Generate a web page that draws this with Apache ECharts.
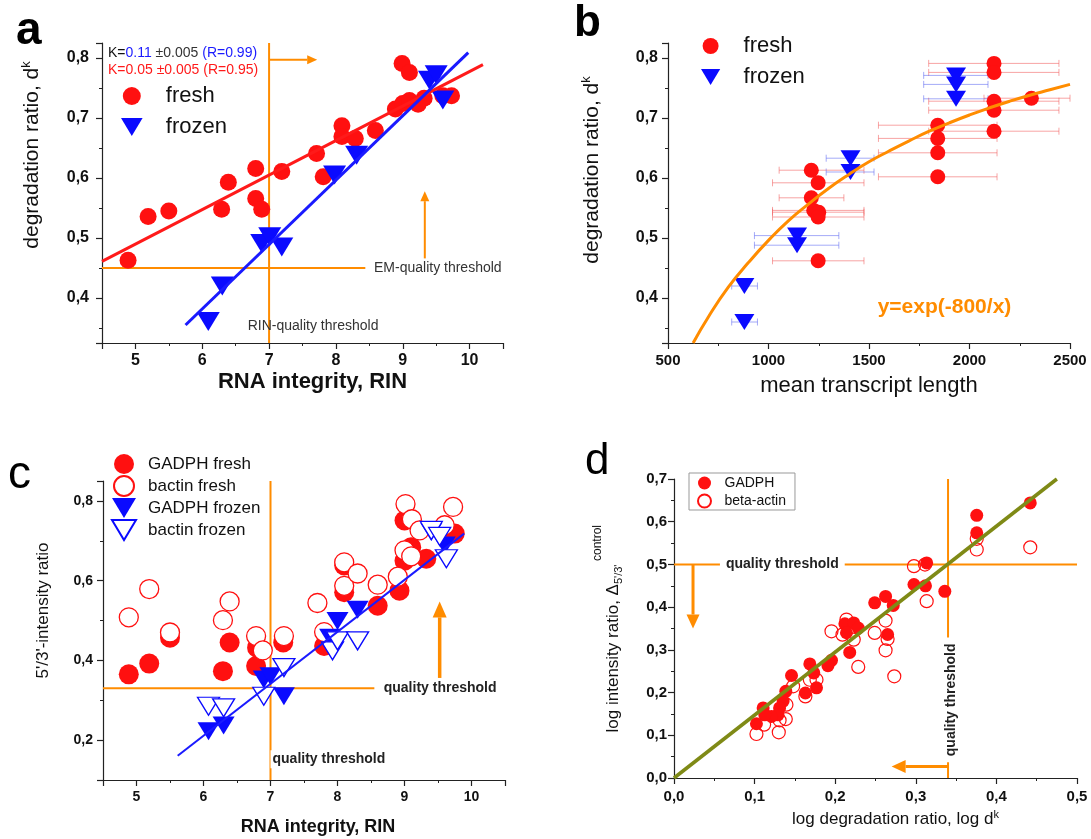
<!DOCTYPE html>
<html>
<head>
<meta charset="utf-8">
<script src="https://cdn.jsdelivr.net/npm/echarts@6/dist/echarts.min.js"></script>
<style>
  html, body { margin: 0; padding: 0; background: #fff; }
  #chart { width: 1091px; height: 839px; }
</style>
</head>
<body>
<div id="chart"></div>
<script>
// ---------- Panel a: degradation ratio vs RIN ----------
const aFreshRIN = [4.89, 5.19, 5.50, 6.29, 6.39, 6.80, 6.80, 6.89, 7.19, 7.71, 7.81, 8.09, 8.09, 8.29, 8.59, 8.89, 8.99, 9.10, 9.00, 9.10, 9.23, 9.32, 9.60, 9.73];
const aFreshDk  = [0.463, 0.536, 0.545, 0.548, 0.593, 0.616, 0.566, 0.548, 0.611, 0.641, 0.602, 0.687, 0.669, 0.666, 0.679, 0.715, 0.791, 0.776, 0.724, 0.729, 0.723, 0.733, 0.737, 0.737];
const aFrozenRIN = [6.09, 6.30, 6.89, 7.01, 7.19, 7.98, 8.31, 9.40, 9.50, 9.60];
const aFrozenDk  = [0.361, 0.420, 0.491, 0.502, 0.485, 0.605, 0.638, 0.763, 0.772, 0.730];
const aFitFreshX = [4.5, 10.2],  aFitFreshY = [0.461, 0.789];
const aFitFrozenX = [5.75, 9.98], aFitFrozenY = [0.355, 0.809];

// ---------- Panel b: degradation ratio vs mean transcript length ----------
const bFreshLen = [2122, 2122, 2122, 2122, 2122, 2308, 1842, 1842, 1842, 1842, 1213, 1247, 1213, 1225, 1250, 1247, 1247];
const bFreshDk  = [0.791, 0.776, 0.728, 0.713, 0.678, 0.733, 0.688, 0.666, 0.642, 0.602, 0.613, 0.592, 0.567, 0.546, 0.543, 0.535, 0.462];
const bFreshLo  = [1797, 1797, 1797, 1797, 1797, 2072, 1547, 1547, 1547, 1547, 1053, 1020, 1053, 1020, 1020, 1020, 1020];
const bFreshHi  = [2445, 2445, 2445, 2445, 2445, 2500, 2137, 2137, 2137, 2137, 1475, 1475, 1375, 1475, 1475, 1475, 1475];
const bFrozenLen = [1933, 1933, 1933, 1408, 1408, 1142, 1142, 880, 880];
const bFrozenDk  = [0.771, 0.756, 0.732, 0.633, 0.610, 0.504, 0.488, 0.420, 0.360];
const bFrozenLo  = [1772, 1772, 1772, 1287, 1287, 930, 930, 817, 817];
const bFrozenHi  = [2092, 2092, 2092, 1525, 1525, 1350, 1350, 945, 945];
const bCurveLen = [625, 700, 800, 900, 1000, 1100, 1200, 1300, 1400, 1500, 1600, 1700, 1800, 1900, 2000, 2100, 2200, 2300, 2400, 2500];
const bCurveDk  = [0.325, 0.368, 0.418, 0.459, 0.496, 0.529, 0.557, 0.583, 0.606, 0.627, 0.645, 0.662, 0.678, 0.692, 0.705, 0.717, 0.728, 0.738, 0.747, 0.756];

// ---------- Panel c: 5'/3' intensity ratio vs RIN ----------
const cGadFreshRIN   = [4.885, 5.19, 5.50, 6.29, 6.39, 6.785, 6.80, 7.19, 7.80, 8.10, 8.10, 8.60, 8.925, 9.00, 9.10, 9.00, 9.325, 9.75];
const cGadFreshRatio = [0.365, 0.392, 0.457, 0.373, 0.445, 0.386, 0.432, 0.445, 0.436, 0.571, 0.638, 0.537, 0.575, 0.751, 0.684, 0.650, 0.655, 0.718];
const cBacFreshRIN   = [4.885, 5.19, 5.50, 6.29, 6.39, 6.785, 6.885, 7.20, 7.70, 7.80, 8.10, 8.10, 8.30, 8.60, 8.90, 9.00, 9.015, 9.11, 9.10, 9.225, 9.60, 9.725];
const cBacFreshRatio = [0.508, 0.579, 0.470, 0.501, 0.548, 0.461, 0.425, 0.461, 0.544, 0.471, 0.646, 0.587, 0.618, 0.590, 0.610, 0.676, 0.792, 0.754, 0.661, 0.726, 0.739, 0.785];
const cGadFrozenRIN   = [6.075, 6.30, 6.90, 7.00, 7.20, 7.89, 8.00, 8.30, 9.40, 9.60];
const cGadFrozenRatio = [0.222, 0.237, 0.352, 0.360, 0.310, 0.457, 0.499, 0.527, 0.722, 0.688];
const cBacFrozenRIN   = [6.075, 6.30, 6.90, 7.20, 7.925, 8.00, 8.30, 9.40, 9.525, 9.625];
const cBacFrozenRatio = [0.285, 0.281, 0.310, 0.382, 0.424, 0.449, 0.449, 0.726, 0.711, 0.655];
const cFitX = [5.615, 9.89], cFitY = [0.161, 0.718];

// ---------- Panel d: log intensity ratio vs log degradation ratio ----------
const dGadX = [0.442, 0.3756, 0.3756, 0.3135, 0.2977, 0.312, 0.336, 0.249, 0.2625, 0.272, 0.265, 0.212, 0.223, 0.2286, 0.214, 0.218, 0.1954, 0.191, 0.1685, 0.1735, 0.1768, 0.163, 0.1458, 0.1387, 0.1354, 0.131, 0.129, 0.121, 0.1106, 0.1126, 0.1023];
const dGadY = [0.644, 0.615, 0.574, 0.5035, 0.453, 0.450, 0.437, 0.410, 0.425, 0.404, 0.336, 0.361, 0.363, 0.351, 0.340, 0.294, 0.2756, 0.263, 0.267, 0.246, 0.211, 0.199, 0.240, 0.203, 0.180, 0.164, 0.148, 0.144, 0.164, 0.148, 0.127];
const dActX = [0.442, 0.3756, 0.3756, 0.2977, 0.3114, 0.3135, 0.2625, 0.2625, 0.265, 0.2733, 0.249, 0.2286, 0.223, 0.214, 0.209, 0.1954, 0.1685, 0.1768, 0.163, 0.1478, 0.1395, 0.1387, 0.131, 0.130, 0.1118, 0.1023];
const dActY = [0.540, 0.560, 0.535, 0.496, 0.4996, 0.414, 0.3685, 0.299, 0.3255, 0.238, 0.3396, 0.260, 0.324, 0.371, 0.3357, 0.3435, 0.230, 0.230, 0.191, 0.2147, 0.1717, 0.138, 0.135, 0.107, 0.125, 0.103];
const dFitX = [0, 0.475], dFitY = [0, 0.7];

// ---------- thresholds (data coordinates) ----------
const aThreshold = { rin: 7, dk: 0.45 };
const cThreshold = { rin: 7, ratio: 0.33 };
const dThreshold = { logDk: 0.34, logRatio: 0.5 };

// ---------- styling ----------
const FONT = '"Liberation Sans", Arial, Helvetica, sans-serif';
const RED = '#ff1010', BLUE = '#0a0aff', ORANGE = '#ff8c00', OLIVE = '#7f8a16';
const TRI_DOWN = 'path://M0,0L24,0L12,20Z';
const pairs = (xs, ys) => xs.map((x, i) => [x, ys[i]]);
const comma = v => (Math.round(v * 10) / 10).toFixed(1).replace('.', ',');

function axis(o) {
  return {
    type: 'value', gridIndex: o.grid, min: o.min, max: o.max,
    interval: o.interval, splitNumber: o.split,
    axisLine: { show: true, onZero: false, lineStyle: { color: '#222', width: 1.2 } },
    axisTick: { show: true, inside: false, length: 6, lineStyle: { color: '#222', width: 1.2 } },
    minorTick: { show: true, splitNumber: 2, length: 3, lineStyle: { color: '#222', width: 1 } },
    splitLine: { show: false },
    axisLabel: {
      fontFamily: FONT, fontWeight: 'bold', fontSize: o.labelSize, color: '#111',
      margin: o.margin, formatter: o.fmt,
      showMinLabel: o.showMin, showMaxLabel: o.showMax
    },
    name: o.name, nameLocation: 'middle', nameGap: o.nameGap,
    nameTextStyle: Object.assign({ fontFamily: FONT, color: '#111' }, o.nameStyle)
  };
}

function segment(idx, xs, ys, color, width, z) {
  return {
    type: 'line', xAxisIndex: idx, yAxisIndex: idx, data: pairs(xs, ys),
    symbol: 'none', silent: true, z: z || 2,
    lineStyle: { color: color, width: width }
  };
}

// arrows: [x1, y1, x2, y2] in data units, head drawn at the second point
function arrows(idx, list, color, width, head) {
  return {
    type: 'custom', xAxisIndex: idx, yAxisIndex: idx, silent: true, z: 3,
    data: list,
    renderItem(params, api) {
      const p1 = api.coord([api.value(0), api.value(1)]);
      const p2 = api.coord([api.value(2), api.value(3)]);
      const dx = p2[0] - p1[0], dy = p2[1] - p1[1];
      const len = Math.hypot(dx, dy), ux = dx / len, uy = dy / len;
      const bx = p2[0] - ux * head[0], by = p2[1] - uy * head[0];
      return {
        type: 'group', children: [
          { type: 'line', shape: { x1: p1[0], y1: p1[1], x2: bx, y2: by }, style: { stroke: color, lineWidth: width } },
          { type: 'polygon', shape: { points: [[p2[0], p2[1]], [bx - uy * head[1], by + ux * head[1]], [bx + uy * head[1], by - ux * head[1]]] }, style: { fill: color } }
        ]
      };
    }
  };
}

// free text placed at data coordinates
function notes(idx, list) {
  return {
    type: 'custom', xAxisIndex: idx, yAxisIndex: idx, silent: true, z: 6,
    data: list.map((t, i) => [t.x, t.y, i]),
    renderItem(params, api) {
      const t = list[api.value(2)];
      const p = api.coord([api.value(0), api.value(1)]);
      return {
        type: 'text', x: p[0], y: p[1], rotation: t.rot || 0,
        style: {
          text: t.text, fill: t.color || '#222', font: t.font,
          align: t.align || 'left', verticalAlign: 'middle',
          backgroundColor: t.bg, padding: t.pad
        }
      };
    }
  };
}

function errorBars(idx, xs, ys, lo, hi, color) {
  return {
    type: 'custom', xAxisIndex: idx, yAxisIndex: idx, silent: true, z: 1,
    data: xs.map((x, i) => [x, ys[i], lo[i], hi[i]]),
    encode: { x: [2, 3], y: 1 },
    renderItem(params, api) {
      const a = api.coord([api.value(2), api.value(1)]);
      const b = api.coord([api.value(3), api.value(1)]);
      const s = { stroke: color, lineWidth: 1 };
      return {
        type: 'group', children: [
          { type: 'line', shape: { x1: a[0], y1: a[1], x2: b[0], y2: b[1] }, style: s },
          { type: 'line', shape: { x1: a[0], y1: a[1] - 3.5, x2: a[0], y2: a[1] + 3.5 }, style: s },
          { type: 'line', shape: { x1: b[0], y1: b[1] - 3.5, x2: b[0], y2: b[1] + 3.5 }, style: s }
        ]
      };
    }
  };
}

function scatter(idx, name, xs, ys, opt) {
  const s = Object.assign({
    type: 'scatter', name: name, xAxisIndex: idx, yAxisIndex: idx,
    data: pairs(xs, ys), z: 4
  }, opt);
  s.itemStyle = Object.assign({ opacity: 1 }, s.itemStyle);
  return s;
}

const chart = echarts.init(document.getElementById('chart'), null, { renderer: 'canvas' });

const supRich = { sup: { fontSize: 13, fontFamily: FONT, color: '#111', padding: [0, 0, 12, 0] } };

const option = {
  backgroundColor: '#fff',
  animation: false,
  grid: [
    { left: 102, top: 43, width: 401, height: 300 },
    { left: 668, top: 43, width: 402, height: 300 },
    { left: 103, top: 481, width: 402, height: 299 },
    { left: 674, top: 479, width: 403, height: 299 }
  ],
  xAxis: [
    axis({ grid: 0, min: 4.5, max: 10.5, split: 6, labelSize: 16, margin: 10, showMin: false, showMax: false,
      fmt: v => Math.abs(v - Math.round(v)) < 1e-6 ? String(Math.round(v)) : '',
      name: 'RNA integrity, RIN', nameGap: 28,
      nameStyle: { fontSize: 22, fontWeight: 'bold', padding: [0, 0, 0, 20] } }),
    axis({ grid: 1, min: 500, max: 2500, interval: 500, labelSize: 15, margin: 10,
      fmt: v => String(v), name: 'mean transcript length', nameGap: 32,
      nameStyle: { fontSize: 22 } }),
    axis({ grid: 2, min: 4.5, max: 10.5, split: 6, labelSize: 14, margin: 10, showMin: false, showMax: false,
      fmt: v => Math.abs(v - Math.round(v)) < 1e-6 ? String(Math.round(v)) : '',
      name: 'RNA integrity, RIN', nameGap: 38,
      nameStyle: { fontSize: 18, fontWeight: 'bold', padding: [0, 0, 0, 28] } }),
    axis({ grid: 3, min: 0, max: 0.5, interval: 0.1, labelSize: 15, margin: 11,
      fmt: comma, name: 'log degradation ratio, log d{sup|k}', nameGap: 31,
      nameStyle: { fontSize: 17, padding: [0, 0, 0, 40], rich: { sup: { fontSize: 11, fontFamily: FONT, color: '#111', padding: [0, 0, 10, 0] } } } })
  ],
  yAxis: [
    axis({ grid: 0, min: 0.325, max: 0.825, split: 5, labelSize: 16, margin: 13, showMin: false, showMax: false,
      fmt: comma, name: 'degradation ratio, d{sup|k}', nameGap: 57,
      nameStyle: { fontSize: 21, padding: [0, 0, 0, 76], rich: supRich } }),
    axis({ grid: 1, min: 0.325, max: 0.825, split: 5, labelSize: 16, margin: 10, showMin: false, showMax: false,
      fmt: comma, name: 'degradation ratio, d{sup|k}', nameGap: 63,
      nameStyle: { fontSize: 21, padding: [0, 0, 0, 46], rich: supRich } }),
    axis({ grid: 2, min: 0.1, max: 0.85, split: 4, labelSize: 14, margin: 10, showMin: false, showMax: false,
      fmt: v => (Math.round(v * 10) % 2 === 0 ? comma(v) : ''),
      name: "5'/3'-intensity ratio", nameGap: 51,
      nameStyle: { fontSize: 17, padding: [0, 0, 0, 40] } }),
    axis({ grid: 3, min: 0, max: 0.7, interval: 0.1, labelSize: 15, margin: 7,
      fmt: comma, name: 'log intensity ratio, Δ{sub|5\'/3\'}', nameGap: 50,
      nameStyle: { fontSize: 17, padding: [0, 40, 0, 0], rich: { sub: { fontSize: 11, fontFamily: FONT, color: '#111', padding: [10, 0, 0, 0] } } } })
  ],
  legend: [
    { left: 121, top: 85, orient: 'vertical', padding: 0, itemGap: 9, itemWidth: 24, itemHeight: 18, selectedMode: false,
      textStyle: { fontFamily: FONT, fontSize: 22, color: '#111', lineHeight: 22, padding: [0, 0, 0, 17] },
      data: [{ name: 'fresh', icon: 'circle' }, { name: 'frozen', icon: TRI_DOWN }] },
    { left: 701, top: 35, orient: 'vertical', padding: 0, itemGap: 9, itemWidth: 24, itemHeight: 16, selectedMode: false,
      textStyle: { fontFamily: FONT, fontSize: 22, color: '#111', lineHeight: 22, padding: [0, 0, 0, 16] },
      data: [{ name: 'fresh', icon: 'circle' }, { name: 'frozen', icon: TRI_DOWN }] },
    { left: 111, top: 454, orient: 'vertical', padding: 0, itemGap: 1, itemWidth: 24, itemHeight: 20, selectedMode: false,
      textStyle: { fontFamily: FONT, fontSize: 17, color: '#111', lineHeight: 20, padding: [0, 0, 0, 7] },
      data: [{ name: 'GADPH fresh', icon: 'circle' }, { name: 'bactin fresh', icon: 'circle' },
             { name: 'GADPH frozen', icon: TRI_DOWN }, { name: 'bactin frozen', icon: TRI_DOWN }] },
    { left: 689, top: 473, orient: 'vertical', padding: [2, 9, 1, 8], itemGap: 2, itemWidth: 20, itemHeight: 13, selectedMode: false,
      borderColor: '#999', borderWidth: 1,
      textStyle: { fontFamily: FONT, fontSize: 14, color: '#111', lineHeight: 16, padding: [0, 0, 0, 5] },
      data: [{ name: 'GADPH', icon: 'circle' }, { name: 'beta-actin', icon: 'circle' }] }
  ],
  graphic: [
    { type: 'text', left: 16, top: 8, style: { text: 'a', font: 'bold 46px ' + FONT, fill: '#000' } },
    { type: 'text', left: 574, top: 2, style: { text: 'b', font: 'bold 44px ' + FONT, fill: '#000' } },
    { type: 'text', left: 8, top: 452, style: { text: 'c', font: '46px ' + FONT, fill: '#000' } },
    { type: 'text', left: 585, top: 440, style: { text: 'd', font: '44px ' + FONT, fill: '#000' } },
    { type: 'text', left: 108, top: 46, z: 10, style: {
        text: '{k|K=}{b|0.11 }{g|±0.005 }{b|(R=0.99)}\n{r|K=0.05 ±0.005 (R=0.95)}',
        rich: {
          k: { fill: '#111', font: '14px ' + FONT, lineHeight: 17 },
          b: { fill: '#1a1aff', font: '14px ' + FONT, lineHeight: 17 },
          g: { fill: '#333', font: '14px ' + FONT, lineHeight: 17 },
          r: { fill: '#ff1a1a', font: '14px ' + FONT, lineHeight: 17 }
        } } },
    { type: 'text', x: 598, y: 543, rotation: Math.PI / 2, style: { text: 'control', font: '12px ' + FONT, fill: '#111', align: 'center', verticalAlign: 'middle' } }
  ],
  series: [
    // ---- panel a ----
    segment(0, [aThreshold.rin, aThreshold.rin], [0.325, 0.825], ORANGE, 2),
    segment(0, [4.5, 8.44], [aThreshold.dk, aThreshold.dk], ORANGE, 2),
    arrows(0, [[7, 0.797, 7.72, 0.797], [9.33, 0.466, 9.33, 0.578]], ORANGE, 2, [10, 4.5]),
    notes(0, [
      { x: 8.57, y: 0.45, text: 'EM-quality threshold', font: '14px ' + FONT, color: '#333' },
      { x: 6.68, y: 0.353, text: 'RIN-quality threshold', font: '14px ' + FONT, color: '#333' }
    ]),
    scatter(0, 'fresh', aFreshRIN, aFreshDk, { symbol: 'circle', symbolSize: 17, itemStyle: { color: RED } }),
    scatter(0, 'frozen', aFrozenRIN, aFrozenDk, { symbol: 'triangle', symbolRotate: 180, symbolSize: [23, 19], itemStyle: { color: BLUE } }),
    segment(0, aFitFreshX, aFitFreshY, '#ff1a1a', 3, 5),
    segment(0, aFitFrozenX, aFitFrozenY, '#1a1aff', 3, 5),

    // ---- panel b ----
    errorBars(1, bFreshLen, bFreshDk, bFreshLo, bFreshHi, 'rgba(240,90,90,0.55)'),
    errorBars(1, bFrozenLen, bFrozenDk, bFrozenLo, bFrozenHi, 'rgba(90,100,240,0.55)'),
    scatter(1, 'fresh', bFreshLen, bFreshDk, { symbol: 'circle', symbolSize: 15, itemStyle: { color: RED } }),
    scatter(1, 'frozen', bFrozenLen, bFrozenDk, { symbol: 'triangle', symbolRotate: 180, symbolSize: [20, 16], itemStyle: { color: BLUE } }),
    Object.assign(segment(1, bCurveLen, bCurveDk, ORANGE, 3, 5), { smooth: true }),
    notes(1, [{ x: 1543, y: 0.384, text: 'y=exp(-800/x)', font: 'bold 21px ' + FONT, color: ORANGE }]),

    // ---- panel c ----
    segment(2, [cThreshold.rin, cThreshold.rin], [0.1, 0.85], ORANGE, 2),
    segment(2, [4.5, 8.55], [cThreshold.ratio, cThreshold.ratio], ORANGE, 2),
    arrows(2, [[9.525, 0.356, 9.525, 0.548]], ORANGE, 3.5, [16, 7]),
    notes(2, [
      { x: 7.0, y: 0.152, text: 'quality threshold', font: 'bold 14px ' + FONT, color: '#222', bg: '#fff', pad: [2, 2, 2, 2] },
      { x: 8.69, y: 0.33, text: 'quality threshold', font: 'bold 14px ' + FONT, color: '#222' }
    ]),
    scatter(2, 'GADPH fresh', cGadFreshRIN, cGadFreshRatio, { symbol: 'circle', symbolSize: 20, itemStyle: { color: RED } }),
    scatter(2, 'bactin fresh', cBacFreshRIN, cBacFreshRatio, { symbol: 'circle', symbolSize: 19, itemStyle: { color: '#fff', borderColor: RED, borderWidth: 1.3 } }),
    scatter(2, 'GADPH frozen', cGadFrozenRIN, cGadFrozenRatio, { symbol: 'triangle', symbolRotate: 180, symbolSize: [22, 18], itemStyle: { color: BLUE } }),
    scatter(2, 'bactin frozen', cBacFrozenRIN, cBacFrozenRatio, { symbol: 'triangle', symbolRotate: 180, symbolSize: [22, 18], itemStyle: { color: '#fff', borderColor: BLUE, borderWidth: 1.3 } }),
    segment(2, cFitX, cFitY, '#1a1aff', 2, 5),

    // ---- panel d ----
    segment(3, [dThreshold.logDk, dThreshold.logDk], [0, 0.7], ORANGE, 2),
    segment(3, [0, 0.5], [dThreshold.logRatio, dThreshold.logRatio], ORANGE, 2),
    arrows(3, [[0.0236, 0.5, 0.0236, 0.35], [0.34, 0.027, 0.27, 0.027]], ORANGE, 3, [14, 6.5]),
    notes(3, [
      { x: 0.057, y: 0.5, text: 'quality threshold', font: 'bold 14px ' + FONT, color: '#222', bg: '#fff', pad: [2, 6, 2, 6] },
      { x: 0.3437, y: 0.183, text: 'quality threshold', font: 'bold 14px ' + FONT, color: '#222', bg: '#fff', pad: [4, 6, 2, 6], align: 'center', rot: Math.PI / 2 }
    ]),
    scatter(3, 'beta-actin', dActX, dActY, { symbol: 'circle', symbolSize: 13, itemStyle: { color: 'rgba(255,255,255,0)', borderColor: RED, borderWidth: 1.2 } }),
    scatter(3, 'GADPH', dGadX, dGadY, { symbol: 'circle', symbolSize: 13, itemStyle: { color: RED } }),
    segment(3, dFitX, dFitY, OLIVE, 3.5, 5)
  ]
};

chart.setOption(option);
</script>
</body>
</html>
